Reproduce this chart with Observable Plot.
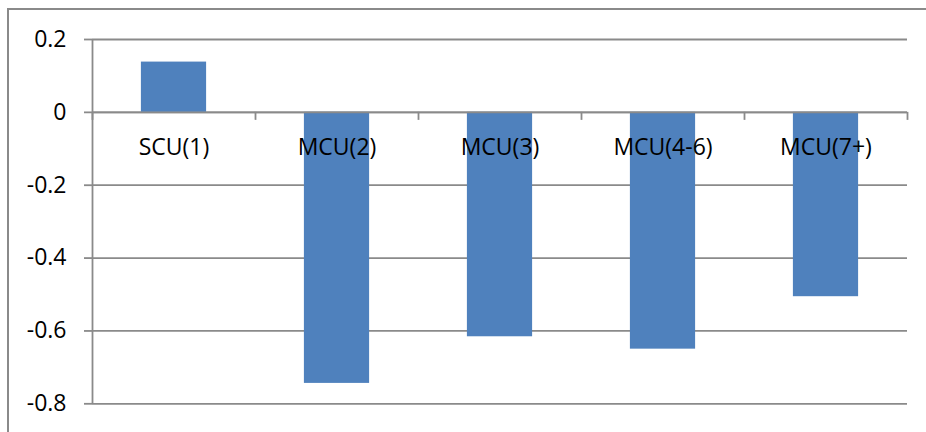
<!DOCTYPE html>
<html>
<head>
<meta charset="utf-8">
<script src="https://cdn.jsdelivr.net/npm/d3@7"></script>
<script src="https://cdn.jsdelivr.net/npm/@observablehq/plot@0.6"></script>
<style>
  html, body { margin: 0; padding: 0; background: #fff; overflow: hidden; }
  #wrap { position: relative; width: 926px; height: 432px; overflow: hidden; }
  #frame { position: absolute; left: 7px; top: 8px; width: 1000px; height: 1000px;
           border-left: 2px solid #8a8a8a; border-top: 2px solid #8a8a8a; box-sizing: border-box; }
  #chart { position: absolute; left: 0; top: 0; }
</style>
</head>
<body>
<div id="wrap"><div id="frame"></div><div id="chart"></div></div>
<script>
const categories = ["SCU(1)", "MCU(2)", "MCU(3)", "MCU(4-6)", "MCU(7+)"];
const values = [0.138, -0.744, -0.616, -0.650, -0.506];
const yTicks = [0.2, 0, -0.2, -0.4, -0.6, -0.8];
const yTickLabels = ["0.2", "0", "-0.2", "-0.4", "-0.6", "-0.8"];

const data = categories.map((c, i) => ({cat: c, i, v: values[i]}));
const boundaries = d3.range(categories.length + 1).map(k => k - 0.5);
const grey = "#8a8a8a";
const font = "'Open Sans', sans-serif";

const chart = Plot.plot({
  width: 926,
  height: 432,
  marginLeft: 92,
  marginRight: 19,
  marginTop: 39,
  marginBottom: 28.7,
  style: {fontFamily: font, fontSize: "23px", color: "#000", background: "transparent"},
  x: {type: "linear", domain: [-0.5, categories.length - 0.5], axis: null},
  y: {domain: [-0.8, 0.2], axis: null},
  marks: [
    Plot.ruleY(yTicks, {stroke: grey, strokeWidth: 1.8, strokeOpacity: 1}),
    Plot.rectY(data, {x1: d => d.i - 0.2, x2: d => d.i + 0.2, y1: 0, y2: "v", fill: "#4F81BD"}),
    Plot.ruleY([0], {stroke: grey, strokeWidth: 1.8}),
    Plot.ruleX([-0.5], {y1: -0.8, y2: 0.2, stroke: grey, strokeWidth: 1.8}),
    Plot.ruleX(boundaries, {y1: 0, y2: -0.022, stroke: grey, strokeWidth: 1.8}),
    Plot.axisY({ticks: yTicks, tickFormat: d => yTickLabels[yTicks.indexOf(d)], tickSize: 8, tickPadding: 18,
                label: null, stroke: grey, strokeWidth: 1.8, strokeOpacity: 1, fontSize: 23, fill: "#000"}),
    Plot.text(data, {x: "i", y: 0, text: "cat", dy: 35, fontSize: 23, fill: "#000"})
  ]
});
document.getElementById("chart").appendChild(chart);
</script>
</body>
</html>
